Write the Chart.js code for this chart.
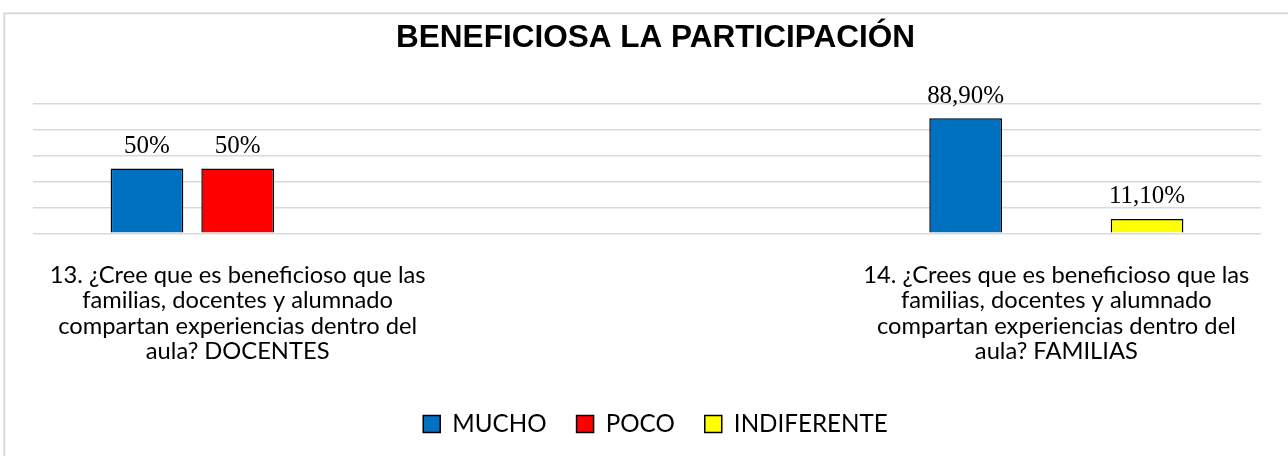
<!DOCTYPE html>
<html>
<head>
<meta charset="utf-8">
<script src="https://cdn.jsdelivr.net/npm/chart.js@4.4.1/dist/chart.umd.min.js"></script>
<style>
html,body{margin:0;padding:0;background:#fff;overflow:hidden}
#wrap{position:relative;width:1288px;height:456px}
</style>
</head>
<body>
<div id="wrap"><canvas id="c" width="1288" height="456"></canvas></div>
<script>
// ---- data ----
const chartTitle = 'BENEFICIOSA LA PARTICIPACIÓN';
const categories = [
  ['13. ¿Cree que es beneficioso que las', 'familias, docentes y alumnado', 'compartan experiencias dentro del', 'aula? DOCENTES'],
  ['14. ¿Crees que es beneficioso que las', 'familias, docentes y alumnado', 'compartan experiencias dentro del', 'aula? FAMILIAS']
];
const seriesNames = ['MUCHO', 'POCO', 'INDIFERENTE'];
const mucho = [50, 88.9];
const poco = [50, null];
const indiferente = [null, 11.1];
const yTicks = [0, 20, 40, 60, 80, 100];

// ---- styling ----
const seriesColors = ['#0070C0', '#FF0000', '#FFFF00'];
const sansFamily = "Lato, 'Noto Sans', sans-serif";
const titleFamily = "'Liberation Sans', Arial, sans-serif";
const serifFamily = "'Liberation Serif', 'Times New Roman', serif";

function fitSize(family, weight, text, target) {
  const c = document.createElement('canvas').getContext('2d');
  c.font = weight + ' 100px ' + family;
  return 100 * target / c.measureText(text).width;
}
const titleSize = fitSize(titleFamily, 'bold', chartTitle, 519);
const catSize = fitSize(sansFamily, 'normal', categories[0][0], 376);
const legendSize = fitSize(sansFamily, 'normal', seriesNames[2], 154);
const valueSize = fitSize(serifFamily, 'normal', '88,90%', 77);

const H = 456;
const plotBottom = 233.3;
const legendCenter = 424;
const legendPad = 30;
const catLineHeight = 25.5;
const padBottom = H - 10 - legendCenter - legendSize / 2;
const legendTop = H - padBottom - (legendSize + legendPad + 10);
const xAxisHeight = legendTop - plotBottom;

function fmtPct(v) {
  if (Math.abs(v - Math.round(v)) < 1e-9) return Math.round(v) + '%';
  return v.toFixed(2).replace('.', ',') + '%';
}
function toPoints(arr) { return arr.map((v, i) => ({x: i, y: v})); }

const frame = {
  id: 'frame',
  beforeDraw(chart) {
    const ctx = chart.ctx;
    ctx.save();
    ctx.strokeStyle = '#d9d9d9';
    ctx.lineWidth = 2;
    ctx.strokeRect(4.3, 13.3, 3000, 3000);
    ctx.restore();
  }
};
const valueLabels = {
  id: 'valueLabels',
  afterDatasetsDraw(chart) {
    const ctx = chart.ctx;
    ctx.save();
    ctx.font = valueSize + 'px ' + serifFamily;
    ctx.fillStyle = '#000';
    ctx.textAlign = 'center';
    ctx.textBaseline = 'alphabetic';
    chart.data.datasets.forEach((ds, di) => {
      const meta = chart.getDatasetMeta(di);
      meta.data.forEach((el, i) => {
        const v = ds.data[i].y;
        if (v === null || v === undefined) return;
        ctx.fillText(fmtPct(v), el.x, el.y - 15.5);
      });
    });
    ctx.restore();
  }
};

const seriesData = [mucho, poco, indiferente];
new Chart(document.getElementById('c'), {
  type: 'bar',
  data: {
    datasets: seriesNames.map((name, k) => ({
      label: name,
      data: toPoints(seriesData[k]),
      backgroundColor: seriesColors[k],
      borderColor: '#000',
      borderWidth: 1.5
    }))
  },
  options: {
    responsive: false,
    animation: false,
    devicePixelRatio: 1,
    layout: {padding: {left: 33, right: 10, top: 0, bottom: padBottom}},
    datasets: {bar: {categoryPercentage: 0.3324, barPercentage: 0.8015}},
    scales: {
      x: {
        type: 'linear',
        min: -0.25,
        max: 1.25,
        offset: false,
        grid: {display: false},
        border: {display: false},
        afterBuildTicks: s => { s.ticks = categories.map((c, i) => ({value: i})); },
        afterFit: s => { s.height = xAxisHeight; },
        ticks: {
          autoSkip: false, maxRotation: 0, minRotation: 0, padding: 21, color: '#000',
          font: {family: sansFamily, size: catSize, lineHeight: catLineHeight / catSize},
          callback: v => categories[v]
        }
      },
      y: {
        position: 'right',
        min: 0,
        max: 100,
        border: {display: false},
        grid: {color: '#d9d9d9', lineWidth: 1.5, drawTicks: true, tickLength: 17, tickColor: 'rgba(0,0,0,0)'},
        ticks: {display: false, stepSize: 20},
        afterBuildTicks: s => { s.ticks = yTicks.map(v => ({value: v})); }
      }
    },
    plugins: {
      title: {
        display: true, text: chartTitle, color: '#000',
        font: {family: titleFamily, size: titleSize, weight: 'bold', lineHeight: 1.2},
        padding: {top: 19, bottom: 47}
      },
      legend: {
        position: 'bottom',
        labels: {boxWidth: 17, boxHeight: 17, padding: legendPad, color: '#000',
          font: {family: sansFamily, size: legendSize}}
      },
      tooltip: {enabled: false}
    }
  },
  plugins: [frame, valueLabels]
});
</script>
</body>
</html>
